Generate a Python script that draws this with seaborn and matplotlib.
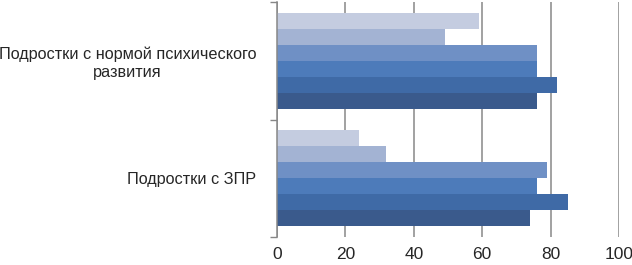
import matplotlib
matplotlib.use("Agg")
import matplotlib.pyplot as plt
import seaborn as sns
import pandas as pd

categories = ["Подростки с нормой психического\nразвития", "Подростки с ЗПР"]
series = ["Ряд 6", "Ряд 5", "Ряд 4", "Ряд 3", "Ряд 2", "Ряд 1"]  # top to bottom in each group
values = {
    "Ряд 6": [59, 24],
    "Ряд 5": [49, 32],
    "Ряд 4": [76, 79],
    "Ряд 3": [76, 76],
    "Ряд 2": [82, 85],
    "Ряд 1": [76, 74],
}
colors = ["#c4cce0", "#a3b3d3", "#6f90c5", "#4d7bba", "#3f6aa6", "#3a5a8c"]
xticks = [0, 20, 40, 60, 80, 100]

rows = []
for s in series:
    for c, v in zip(categories, values[s]):
        rows.append({"cat": c, "series": s, "val": v})
df = pd.DataFrame(rows)

sns.set_style("white")
plt.rcParams["font.family"] = ["Liberation Sans", "DejaVu Sans"]

fig = plt.figure(figsize=(6.32, 2.65), dpi=100)
ax = fig.add_axes([277/632, 1-237/265, (619-277)/632, (237-2)/265])
sns.barplot(data=df, y="cat", x="val", hue="series", order=categories,
            hue_order=series, palette=colors, orient="h", width=0.82,
            linewidth=0, saturation=1, ax=ax, legend=False)

ax.set_xlim(0, 100)
ax.set_ylim(1.5, -0.5)
ax.set_xticks(xticks)
ax.set_xticklabels([str(t) for t in xticks], fontsize=12.5)
ax.xaxis.grid(True, color="#878787", linewidth=1.1)
ax.set_axisbelow(True)
ax.tick_params(axis="x", length=0, pad=7)
ax.set_yticks([0, 1])
ax.set_yticklabels(categories, fontsize=11.7, ha="right", multialignment="center")
ax.tick_params(axis="y", length=0, pad=15)
ax.set_yticks([-0.5, 0.5, 1.5], minor=True)
ax.tick_params(axis="y", which="minor", length=5, color="#878787", width=1, left=True)
ax.set_xlabel("")
ax.set_ylabel("")
for sp in ["top", "right", "bottom"]:
    ax.spines[sp].set_visible(False)
ax.spines["left"].set_color("#878787")
ax.spines["left"].set_linewidth(1.1)

fig.savefig("out.png", dpi=100)
